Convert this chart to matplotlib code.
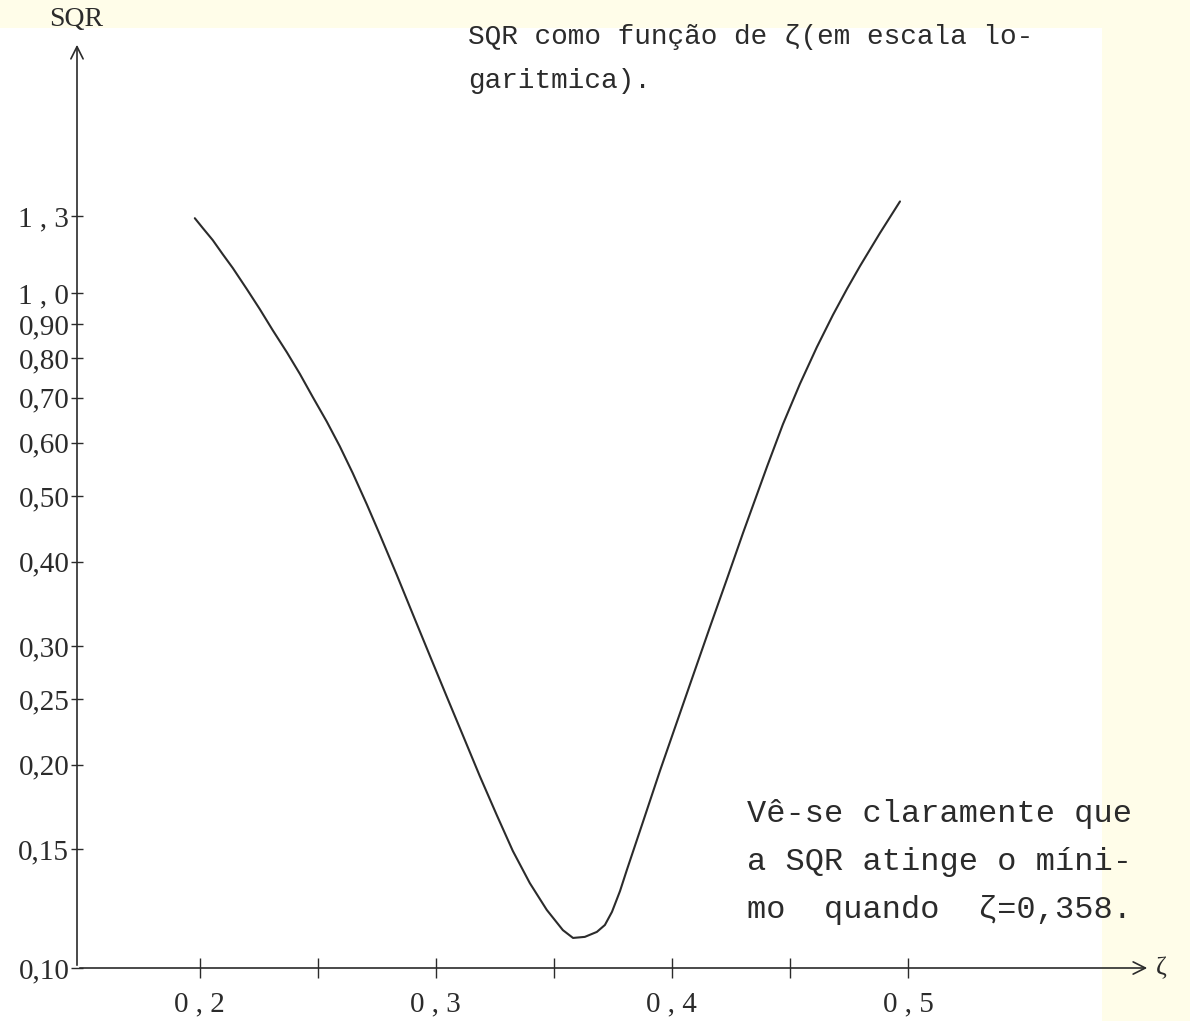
import numpy as np
import matplotlib
matplotlib.use("Agg")
import matplotlib.pyplot as plt
from matplotlib.patches import Rectangle

# SQR against zeta (log scale on SQR)
zeta = [0.1979, 0.2013, 0.2055, 0.2097, 0.2140, 0.2199, 0.2254, 0.2309,
        0.2369, 0.2424, 0.2479, 0.2538, 0.2593, 0.2648, 0.2708, 0.2763,
        0.2835, 0.2903, 0.2975, 0.3047, 0.3114, 0.3186, 0.3258, 0.3326,
        0.3398, 0.3470, 0.3538, 0.3581,
        0.3631, 0.3682, 0.3716, 0.3746, 0.3780, 0.3809, 0.3877, 0.3949,
        0.4021, 0.4089, 0.4161, 0.4233, 0.4301, 0.4403, 0.4470, 0.4542,
        0.4614, 0.4682, 0.4742, 0.4797, 0.4881, 0.4966]
sqr = [1.291, 1.248, 1.198, 1.142, 1.089, 1.014, 0.947, 0.881,
       0.817, 0.759, 0.701, 0.645, 0.593, 0.541, 0.486, 0.4385,
       0.382, 0.334, 0.290, 0.252, 0.2214, 0.1925, 0.1685, 0.1491,
       0.1336, 0.1219, 0.1138, 0.1108,
       0.1112, 0.1131, 0.1158, 0.1211, 0.1300, 0.1397, 0.1645, 0.1958,
       0.2314, 0.2709, 0.3200, 0.3770, 0.4410, 0.5534, 0.6390, 0.7333,
       0.8318, 0.9281, 1.015, 1.097, 1.227, 1.367]

y_ticks = [0.10, 0.15, 0.20, 0.25, 0.30, 0.40, 0.50, 0.60, 0.70, 0.80, 0.90, 1.0, 1.3]
y_labels = ["0,10", "0,15", "0,20", "0,25", "0,30", "0,40", "0,50", "0,60",
            "0,70", "0,80", "0,90", "1 , 0", "1 , 3"]
x_ticks = [0.2, 0.25, 0.3, 0.35, 0.4, 0.45, 0.5]
x_labels = ["0 , 2", "", "0 , 3", "", "0 , 4", "", "0 , 5"]

W, H = 1190, 1021
ink = "#2b2b2b"
serif = "Liberation Serif"
mono = "Liberation Mono"

fig = plt.figure(figsize=(W / 100, H / 100), dpi=100, facecolor="#fffde9")
# paper: white sheet with a yellowed margin at the top and right
fig.patches.append(Rectangle((0, 0), 1102 / W, (H - 28) / H, transform=fig.transFigure,
                             facecolor="white", edgecolor="none", zorder=-10))

ax = fig.add_axes([77 / W, 1 - 968 / H, (1150 - 77) / W, (968 - 42) / H])
ax.set_facecolor("none")
ax.set_yscale("log")
ax.set_xlim(0.148, 0.6025)
ax.set_ylim(0.10, 2.355)

ax.plot(zeta, sqr, color=ink, lw=1.5, solid_capstyle="round", solid_joinstyle="round")

for s in ax.spines.values():
    s.set_visible(False)

# axes drawn as arrows
ax.annotate("", xy=(1, 0), xytext=(0, 0), xycoords="axes fraction",
            arrowprops=dict(arrowstyle="->", lw=1.2, color=ink, mutation_scale=22))
ax.annotate("", xy=(0, 1), xytext=(0, 0), xycoords="axes fraction",
            arrowprops=dict(arrowstyle="->", lw=1.2, color=ink, mutation_scale=22))

ax.set_yticks(y_ticks)
ax.set_yticklabels(y_labels)
ax.yaxis.set_minor_locator(matplotlib.ticker.NullLocator())
ax.set_xticks(x_ticks)
ax.set_xticklabels(x_labels)

ax.tick_params(axis="y", direction="inout", length=9, width=1.0, color=ink,
               pad=1, labelsize=21, labelcolor=ink)
ax.tick_params(axis="x", direction="inout", length=14, width=1.0, color=ink,
               pad=10, labelsize=21, labelcolor=ink)
for lab in ax.get_xticklabels() + ax.get_yticklabels():
    lab.set_fontfamily(serif)

fig.text(76 / W, 1 - 20 / H, "SQR", family=serif, size=20, color=ink,
         ha="center", va="center")
fig.text(1156 / W, 1 - 968 / H, "ζ", family=serif, size=19, color=ink,
         ha="left", va="center")

fig.text(468 / W, 1 - 44 / H, "SQR como função de ζ(em escala lo-",
         family=mono, size=20, color=ink, ha="left", va="baseline")
fig.text(468 / W, 1 - 88 / H, "garitmica).",
         family=mono, size=20, color=ink, ha="left", va="baseline")

note = ["Vê-se claramente que", "a SQR atinge o míni-", "mo  quando  ζ=0,358."]
for i, line in enumerate(note):
    fig.text(747 / W, 1 - (822 + 48 * i) / H, line, family=mono, size=23,
             color=ink, ha="left", va="baseline")

fig.savefig("out.png", dpi=100, facecolor=fig.get_facecolor())
